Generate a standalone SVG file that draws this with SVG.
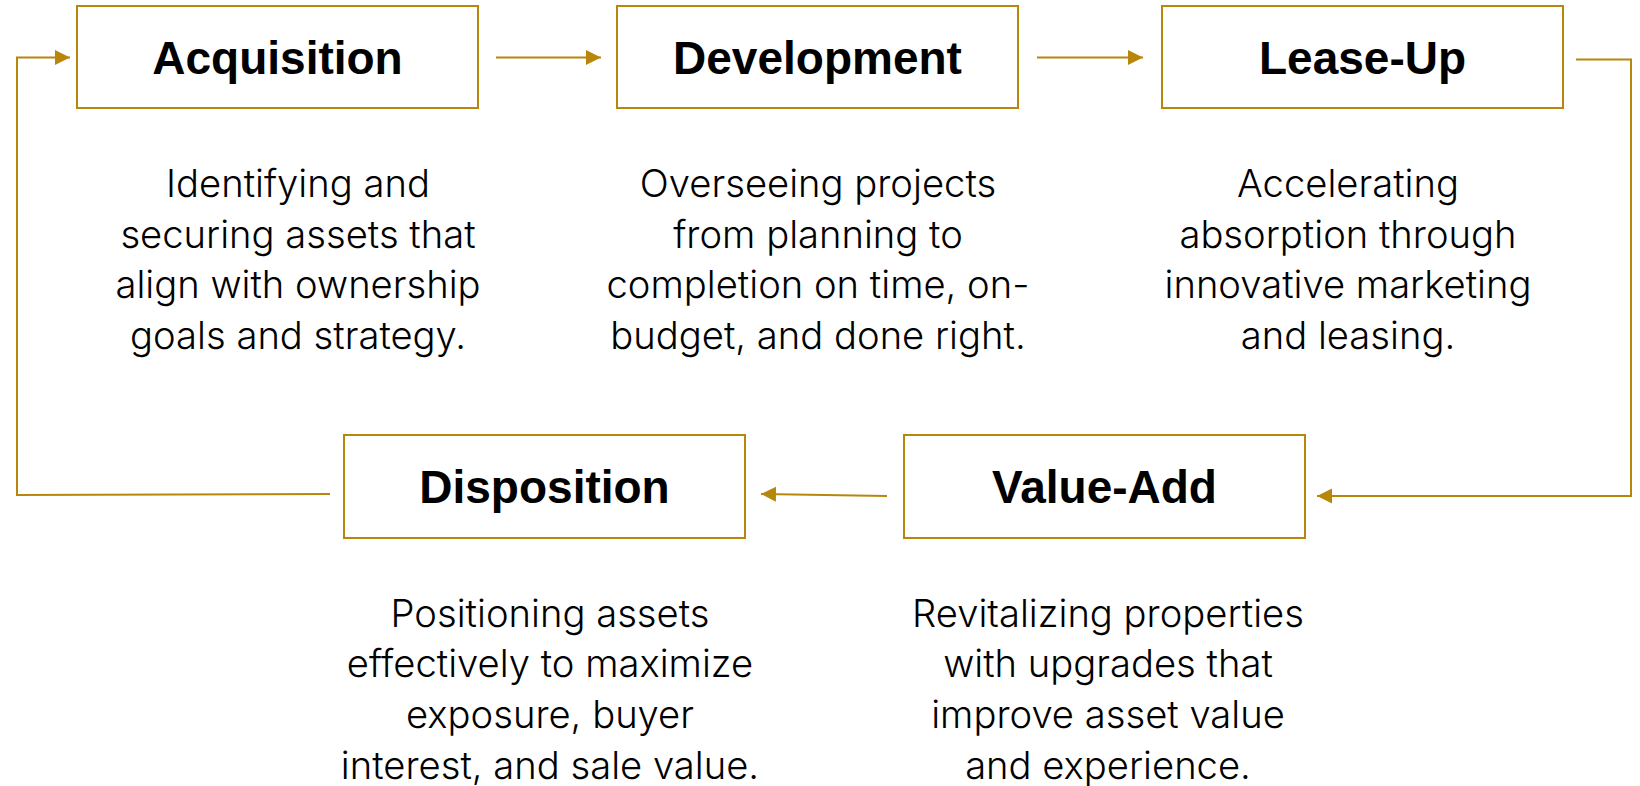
<svg xmlns="http://www.w3.org/2000/svg" width="1640" height="786" viewBox="0 0 1640 786">
<defs>
<marker id="ah" markerUnits="userSpaceOnUse" markerWidth="16" markerHeight="16" refX="15" refY="7.5" orient="auto">
<path d="M0,0 L15,7.5 L0,15 Z" fill="#B8860B"/>
</marker>
<style>
.box{fill:#fff;stroke:#B8860B;stroke-width:2}
.title{font-family:"Liberation Sans",Arial,sans-serif;font-weight:bold;font-size:46px;fill:#000;text-anchor:middle}
.desc{font-family:Inter,"Noto Sans",sans-serif;font-weight:300;font-size:38.2px;fill:#000;text-anchor:middle}
.conn{fill:none;stroke:#B8860B;stroke-width:2;marker-end:url(#ah)}
</style>
</defs>
<rect width="1640" height="786" fill="#fff"/>
<g id="connectors">
<path class="conn" d="M496,57.5 H601"/>
<path class="conn" d="M1037,57.5 H1143"/>
<path class="conn" d="M1576,59.5 H1631 V496 H1317"/>
<path class="conn" d="M887,496 L761,494"/>
<path class="conn" d="M330,494 L17,495 V57.5 H70"/>
</g>
<g id="acquisition">
<rect class="box" x="77" y="6" width="401" height="102"/>
<text class="title" x="277.5" y="73.5">Acquisition</text>
<text class="desc"><tspan x="298" y="197">Identifying and</tspan><tspan x="298" y="247.7">securing assets that</tspan><tspan x="298" y="298.4">align with ownership</tspan><tspan x="298" y="349">goals and strategy.</tspan></text>
</g>
<g id="development">
<rect class="box" x="617" y="6" width="401" height="102"/>
<text class="title" x="817.5" y="73.5">Development</text>
<text class="desc"><tspan x="818" y="197">Overseeing projects</tspan><tspan x="818" y="247.7">from planning to</tspan><tspan x="818" y="298.4">completion on time, on-</tspan><tspan x="818" y="349">budget, and done right.</tspan></text>
</g>
<g id="leaseup">
<rect class="box" x="1162" y="6" width="401" height="102"/>
<text class="title" x="1362.5" y="73.5">Lease-Up</text>
<text class="desc"><tspan x="1348" y="197">Accelerating</tspan><tspan x="1348" y="247.7">absorption through</tspan><tspan x="1348" y="298.4">innovative marketing</tspan><tspan x="1348" y="349">and leasing.</tspan></text>
</g>
<g id="valueadd">
<rect class="box" x="904" y="435" width="401" height="103"/>
<text class="title" x="1104.5" y="503">Value-Add</text>
<text class="desc"><tspan x="1108" y="626.5">Revitalizing properties</tspan><tspan x="1108" y="677.2">with upgrades that</tspan><tspan x="1108" y="727.9">improve asset value</tspan><tspan x="1108" y="778.6">and experience.</tspan></text>
</g>
<g id="disposition">
<rect class="box" x="344" y="435" width="401" height="103"/>
<text class="title" x="544.5" y="503">Disposition</text>
<text class="desc"><tspan x="550" y="626.5">Positioning assets</tspan><tspan x="550" y="677.2">effectively to maximize</tspan><tspan x="550" y="727.9">exposure, buyer</tspan><tspan x="550" y="778.6">interest, and sale value.</tspan></text>
</g>
</svg>
